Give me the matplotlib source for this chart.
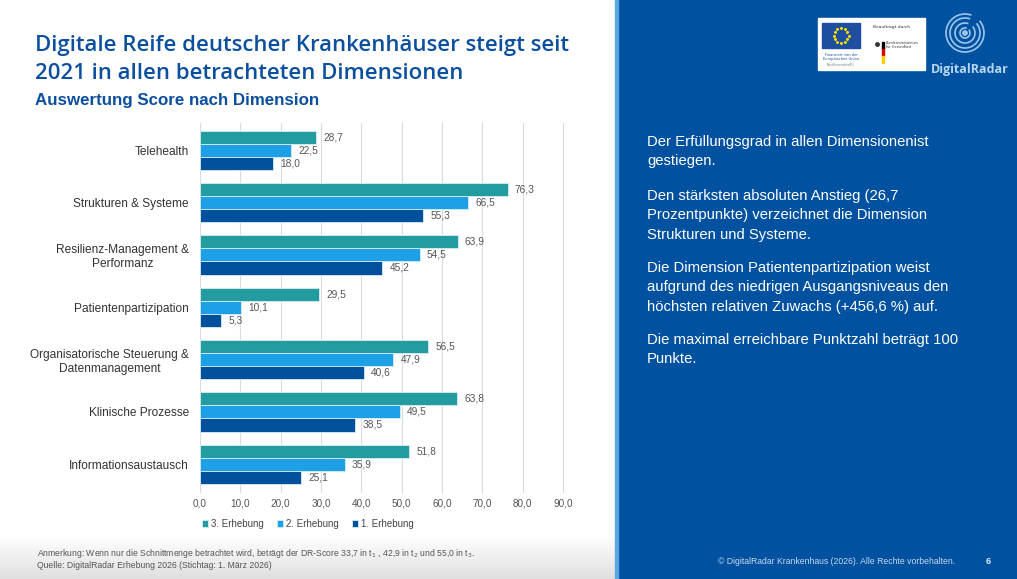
import numpy as np
import matplotlib
matplotlib.use('Agg')
import matplotlib.pyplot as plt
from matplotlib.patches import Rectangle, Circle, Arc

categories = ['Telehealth', 'Strukturen & Systeme', 'Resilienz-Management &\nPerformanz',
              'Patientenpartizipation', 'Organisatorische Steuerung &\nDatenmanagement',
              'Klinische Prozesse', 'Informationsaustausch']
erhebung3 = [28.7, 76.3, 63.9, 29.5, 56.5, 63.8, 51.8]
erhebung2 = [22.5, 66.5, 54.5, 10.1, 47.9, 49.5, 35.9]
erhebung1 = [18.0, 55.3, 45.2, 5.3, 40.6, 38.5, 25.1]
series_names = ['3. Erhebung', '2. Erhebung', '1. Erhebung']
xticks = [0, 10, 20, 30, 40, 50, 60, 70, 80, 90]

c3, c2, c1 = '#229c9f', '#1ea0e6', '#00509c'
panel_blue = '#0051a0'
title_blue = '#0b4f9e'

W, H = 1017, 579
fig = plt.figure(figsize=(W / 100, H / 100), dpi=100)
fig.patch.set_facecolor('white')

def fx(px):
    return px / W

def fy(py):
    return 1 - py / H

# background layer (gradient + blue panel + logos)
bg = fig.add_axes([0, 0, 1, 1], zorder=-5)
grad = np.linspace(0, 1, 50).reshape(-1, 1)
bg.imshow(grad, extent=(0, 617, 579, 535), cmap=matplotlib.colors.LinearSegmentedColormap.from_list(
    'g', ['#ffffff', '#e0e0e0']), aspect='auto', zorder=0)
bg.add_patch(Rectangle((617, 0), 400, 579, color=panel_blue, zorder=1))
bg.add_patch(Rectangle((615, 0), 3, 579, color='#5aa8e0', zorder=2))

# EU / BMG logo box
bg.add_patch(Rectangle((818, 18), 107, 52, color='white', zorder=3))
bg.add_patch(Rectangle((822, 23), 38, 25, color='#1d4ea0', zorder=4))
for a in np.linspace(0, 2 * np.pi, 12, endpoint=False):
    bg.plot(841 + 7.5 * np.cos(a), 35.5 + 7.5 * np.sin(a), marker='*', ms=1.6, color='#ffdd00', zorder=5)
bg.text(841, 53, 'Finanziert von der\nEuropäischen Union', fontsize=2.6, ha='center', va='top',
        color='#1d4ea0', zorder=5, linespacing=1.0)
bg.text(841, 63, 'NextGenerationEU', fontsize=2.2, ha='center', va='top', color='#777777', zorder=5)
bg.text(873, 27, 'Beauftragt durch', fontsize=3.2, ha='left', va='center', color='#333333', zorder=5)
bg.add_patch(Rectangle((882, 42), 1.6, 7, color='black', zorder=5))
bg.add_patch(Rectangle((882, 49), 1.6, 7, color='#dd0000', zorder=5))
bg.add_patch(Rectangle((882, 56), 1.6, 7, color='#ffcc00', zorder=5))
bg.plot(877, 44, marker='o', ms=2.5, color='#333333', zorder=5)
bg.text(886, 45, 'Bundesministerium\nfür Gesundheit', fontsize=2.4, ha='left', va='center',
        color='#333333', zorder=5, linespacing=1.0)

# DigitalRadar logo
for r in [5, 10, 15, 19]:
    bg.add_patch(Arc((965, 33), 2 * r, 2 * r, theta1=-40, theta2=290, color='#9cc6ec', lw=1.2, zorder=5))
bg.add_patch(Circle((965, 33), 2.2, color='#9cc6ec', zorder=5))
bg.text(970, 69, 'DigitalRadar', fontsize=9, fontweight='bold', ha='center', va='center',
        color='#b7d6f2', family='Open Sans', zorder=5)
bg.set_xlim(0, W)
bg.set_ylim(H, 0)
bg.axis('off')

# titles
fig.text(fx(35), fy(45), 'Digitale Reife deutscher Krankenhäuser steigt seit', fontsize=15.9,
         fontweight='semibold', family='Open Sans', color=title_blue, va='center')
fig.text(fx(35), fy(74), '2021 in allen betrachteten Dimensionen', fontsize=15.9,
         fontweight='semibold', family='Open Sans', color=title_blue, va='center')
fig.text(fx(35), fy(100), 'Auswertung Score nach Dimension', fontsize=12.2, fontweight='bold',
         family='Liberation Sans', color=title_blue, va='center')

# chart
ax = fig.add_axes([fx(200), fy(493), 367 / W, fy(123) - fy(493)])
y = np.arange(len(categories))
h = 0.25
series = [erhebung3, erhebung2, erhebung1]
colors = [c3, c2, c1]
for i, (vals, col, name) in enumerate(zip(series, colors, series_names)):
    pos = y + (i - 1) * h
    ax.barh(pos, vals, height=h, color=col, edgecolor='#d6eef4', linewidth=0.6, label=name, zorder=3)
    for p, v in zip(pos, vals):
        ax.text(v + 1.8, p, f'{v:.1f}'.replace('.', ','), fontsize=7.3, color='#555555',
                va='center', ha='left', family='Liberation Sans')
ax.set_xlim(0, 91)
ax.set_ylim(len(categories) - 0.45, -0.52)
ax.set_yticks(y)
ax.set_yticklabels(categories, fontsize=8.6, family='Liberation Sans', color='#333333',
                   multialignment='center')
ax.set_xticks(xticks)
ax.set_xticklabels([f'{t:.1f}'.replace('.', ',') for t in xticks], fontsize=7.2,
                   family='Liberation Sans', color='#555555')
ax.tick_params(axis='x', length=0, pad=4)
ax.tick_params(axis='y', length=0, pad=8)
ax.grid(axis='x', color='#dcdcdc', linewidth=0.8, zorder=0)
for s in ax.spines.values():
    s.set_visible(False)
ax.set_facecolor('none')

handles, labels = ax.get_legend_handles_labels()
fig.legend(handles, labels, loc='center', bbox_to_anchor=(fx(308), fy(524)), ncol=3, frameon=False,
           prop={'family': 'Liberation Sans', 'size': 7}, handlelength=0.6, handleheight=0.6,
           handletextpad=0.3, columnspacing=1.4, labelcolor='#444444')

# footnotes
fig.text(fx(37), fy(553), 'Anmerkung: Wenn nur die Schnittmenge betrachtet wird, beträgt der DR-Score '
         '33,7 in t$_1$ , 42,9 in t$_2$ und 55,0 in t$_3$.', fontsize=6.2, color='#555555',
         va='center', family='Liberation Sans')
fig.text(fx(37), fy(565), 'Quelle: DigitalRadar Erhebung 2026 (Stichtag: 1. März 2026)', fontsize=6.2,
         color='#555555', va='center', family='Liberation Sans')

# right panel text
paras = [
    (142, ['Der Erfüllungsgrad in allen Dimensionenist', 'gestiegen.']),
    (196, ['Den stärksten absoluten Anstieg (26,7', 'Prozentpunkte) verzeichnet die Dimension',
           'Strukturen und Systeme.']),
    (268, ['Die Dimension Patientenpartizipation weist', 'aufgrund des niedrigen Ausgangsniveaus den',
           'höchsten relativen Zuwachs (+456,6 %) auf.']),
    (340, ['Die maximal erreichbare Punktzahl beträgt 100', 'Punkte.']),
]
for top, lines in paras:
    for k, line in enumerate(lines):
        fig.text(fx(647), fy(top + k * 19.3), line, fontsize=10.7, color='white', va='center',
                 family='Liberation Sans')

fig.text(fx(955), fy(561), '© DigitalRadar Krankenhaus (2026). Alle Rechte vorbehalten.', fontsize=6.2,
         color='#c9d9ec', ha='right', va='center', family='Liberation Sans')
fig.text(fx(988), fy(561), '6', fontsize=6.5, color='#e8eef6', ha='center', va='center',
         fontweight='bold', family='Liberation Sans')

fig.savefig('out.png', dpi=100)
